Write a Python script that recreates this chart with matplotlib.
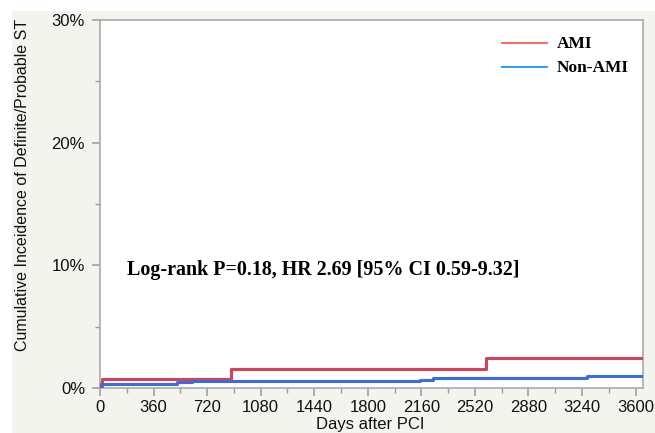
import matplotlib
matplotlib.use("Agg")
import matplotlib.pyplot as plt
from matplotlib.ticker import MultipleLocator, FuncFormatter

# Data
ami_days = [0, 15, 880, 2597, 3650]
ami_pct = [0.0, 0.72, 1.51, 2.41, 2.41]
nonami_days = [0, 3, 519, 616, 2149, 2238, 3275, 3650]
nonami_pct = [0.0, 0.34, 0.45, 0.53, 0.67, 0.78, 1.0, 1.0]

series_labels = ["AMI", "Non-AMI"]
x_ticks = [0, 360, 720, 1080, 1440, 1800, 2160, 2520, 2880, 3240, 3600]
y_ticks = [0, 10, 20, 30]
annotation = "Log-rank P=0.18, HR 2.69 [95% CI 0.59-9.32]"

W, H = 655, 433
fig = plt.figure(figsize=(W / 100, H / 100), dpi=100)
fig.patch.set_facecolor("white")

bg = fig.add_axes([12 / W, 0, 1 - 12 / W, 1 - 11 / H], zorder=-5)
bg.set_facecolor("#f4f4ef")
bg.set_xticks([]); bg.set_yticks([])
for s in bg.spines.values():
    s.set_visible(False)

ax = fig.add_axes([100 / W, 1 - 388 / H, 543 / W, 368 / H], zorder=1)
ax.set_facecolor("white")

red = "#d8405a"
blue = "#3a6be0"
ax.step(ami_days, ami_pct, where="post", color=red, lw=2.2, zorder=3)
ax.step(nonami_days, nonami_pct, where="post", color=blue, lw=2.2, zorder=3)

ax.set_xlim(0, 3650)
ax.set_ylim(0, 30)
ax.set_xticks(x_ticks)
ax.set_yticks(y_ticks)
ax.xaxis.set_minor_locator(MultipleLocator(180))
ax.yaxis.set_minor_locator(MultipleLocator(5))
ax.yaxis.set_major_formatter(FuncFormatter(lambda v, p: f"{int(v)}%"))

for s in ax.spines.values():
    s.set_color("#aaaaaa")
    s.set_linewidth(1.2)

ax.tick_params(axis="both", which="major", length=5.8, width=1.1, color="#999999",
               labelsize=12, labelcolor="#111111", direction="out")
ax.tick_params(axis="x", which="major", pad=3)
ax.tick_params(axis="y", which="major", pad=5)
ax.tick_params(axis="both", which="minor", length=3.5, width=1.0, color="#999999",
               direction="out")

sans = ["Liberation Sans", "DejaVu Sans"]
serif = ["Liberation Serif", "DejaVu Serif"]
for lab in ax.get_xticklabels() + ax.get_yticklabels():
    lab.set_family(sans)

ax.set_ylabel("Cumulative Inceidence of Definite/Probable ST", family=sans,
              fontsize=11.5, color="#111111", va="center", ha="center")
ax.yaxis.set_label_coords((23 - 100) / 543, (388 - 185) / 368)
ax.set_xlabel("Days after PCI", family=sans, fontsize=12, color="#111111", va="top")
ax.xaxis.set_label_coords((370 - 100) / 543, (388 - 416.5) / 368)

ax.text(127 / W, 1 - 275 / H, annotation, family=serif, fontweight="bold",
        fontsize=14.4, color="black", va="baseline", ha="left",
        transform=fig.transFigure, zorder=5)

# Legend drawn manually to match layout
leg_colors = ["#ff6a5c", "#2e9bff"]
line_y = [43.3, 67.3]
text_y = [44.3, 68.0]
for lbl, c, ly, ty in zip(series_labels, leg_colors, line_y, text_y):
    fig.add_artist(plt.Line2D([502 / W, 547 / W], [1 - ly / H, 1 - ly / H], color=c,
                              lw=1.4, transform=fig.transFigure, zorder=6))
    t = fig.text(557 / W, 1 - ty / H, lbl, family=serif, fontweight="bold",
                 fontsize=12.5, va="center", ha="left", color="black")
    t.set_zorder(6)

fig.savefig("out.png", dpi=100, facecolor=fig.get_facecolor())
